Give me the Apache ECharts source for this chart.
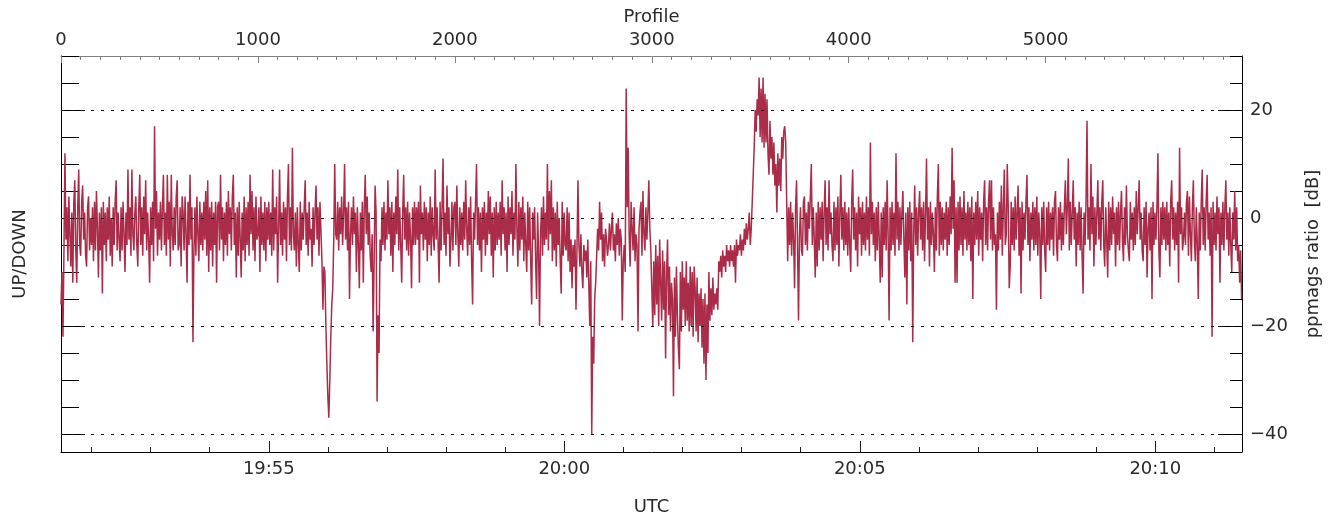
<!DOCTYPE html>
<html>
<head>
    <meta charset="utf-8"/>
    <title>ppmags ratio</title>
    <script src="https://cdn.jsdelivr.net/npm/echarts@6.0.0/dist/echarts.min.js"></script>
    <style>
        html, body { margin: 0; padding: 0; background: #fff; }
        #echart1 { width: 1337px; height: 518px; }
    </style>
</head>
<body>
<div id="echart1"></div>
<script>
    // ppmags ratio [dB], one value every 5 profiles
    var ratio = [
        -16, -10, -22, -6, 12, -4, 2, -8, 4, -3, -9, 1, -12, 3, 7, -6, -12, 2, 9, -5, -7, 3, 6, -4, 1, -7, -9, 2, 4, -6, 0, -5, 2, -8, 3, -6, 5, -2, -11, 1,
        -6, 2, -14, 3, -5, 1, -8, 2, -4, 4, -7, 0, -9, 2, -5, 3, 7, -6, 1, -4, -8, 2, -6, 3, -3, -10, 1, -5, 9, -4, 2, -7, 9, -3, -6, 1, 4, -5, -9, 2,
        8, -5, 2, -7, 4, -3, 7, -6, 1, -4, -12, 2, -5, 3, -8, 17, -2, 5, -7, 1, -4, 3, -6, 2, 8, -5, 1, -7, 8, -4, 3, -9, 8, -3, -6, 2, -5, 4, 7, -6,
        -5, 2, -9, 4, 1, -6, 4, -3, -12, 3, -5, 8, -4, 2, -23, -6, 2, -7, 4, -3, -8, 3, -5, 1, -6, 3, -4, 5, -7, 7, -10, 2, -6, 3, -9, 1, -5, 3, -12, 2,
        3, -6, 8, -4, 2, -8, 1, -5, 3, -7, 5, -3, 2, -6, 4, 8, -5, 1, -11, 2, -7, 3, -4, -11, 1, -6, 4, -8, 2, -5, 3, -7, 8, -3, 5, -6, 2, -8, 4, -4,
        -3, 2, -10, 4, -5, 1, -6, 3, -8, 2, -4, 3, -5, 1, -7, 9, -6, 2, -3, 4, -12, -2, 9, -5, 1, -7, 3, -4, 2, -8, 4, 10, -5, 2, -6, 13, -3, -6, 1, -9,
        2, -5, -10, 3, -6, 1, -4, 2, 7, -5, 1, -7, 3, -4, -2, -9, 2, -5, 1, 6, -4, 2, -7, 3, 3, -8, -17, -9, -10, -20, -27, -33, -37, -30, -22, -16, -13, -4, 10, -3,
        -4, 3, -6, 2, -3, 4, -5, 1, 10, -4, 2, -6, 3, -15, -3, 2, -5, 4, -3, 1, -10, 2, -5, -13, 1, -6, 3, -12, 2, 8, -3, 4, -5, 1, -7, -10, -3, -21, -8, 6,
        1, -34, -18, -25, -4, -8, 2, -5, 3, -6, 1, -4, 7, -3, 2, -7, 3, -10, 1, -5, 4, -3, 9, -6, 2, -5, -12, 1, 8, -4, 2, -6, 3, -7, 1, -4, -13, 2, -5, 3,
        -5, 2, -4, 3, -12, 6, -3, 1, -6, 3, -4, 2, -8, 1, -5, 4, -7, 2, -3, -6, 9, -4, 2, -5, -12, 3, -6, 2, 11, -5, 1, -7, 6, -3, 2, -9, -4, 3, -6, 2,
        3, -5, 6, -3, -9, 2, -5, 1, -6, 3, -4, 7, -2, -7, 2, -5, 4, -8, -16, 1, -4, 3, 10, -5, 2, -6, 1, -10, 2, -4, 3, -7, 1, -5, 5, -3, 4, -7, 1, -11,
        2, -6, 3, -5, 1, -4, 3, -7, 7, -3, 2, -6, 1, -10, 4, -5, 2, -3, 5, -7, 1, -4, 10, -2, -9, 3, -6, 2, -4, 4, -8, 1, -5, -10, 3, -6, 2, -8, -16, 1,
        -4, 2, -8, -15, 1, -6, -20, -3, 2, -7, 4, -5, 1, -4, 10, -6, 5, -3, 7, -8, 2, -6, 1, -9, 3, -5, 0, -8, -14, 3, -7, 1, -5, -6, 2, -8, 1, -10, -4, -13,
        -5, -9, -4, -17, -6, 7, -5, -9, -3, -10, -13, -5, -8, -6, -11, -4, -12, -20, -8, -40, -22, -27, -15, -12, -7, -2, -6, 3, -4, 1, -8, -3, -9, -2, -4, -7, -5, -1, -6, -2,
        1, -6, -3, -8, -1, -5, 0, -7, -2, -4, -19, -8, -5, -10, 24, 2, 13, -3, -9, 3, -2, -6, 2, -8, -3, -5, -21, -2, 1, 3, -7, 5, -3, -6, 2, -4, 1, 7, -2, -6,
        -13, -20, -8, -18, -5, -16, -7, -20, -4, -12, -19, -6, -17, -8, -26, -10, -4, -18, -9, -21, -12, -15, -33, -11, -22, -9, -18, -24, -28, -10, -21, -8, -17, -11, -20, -8, -19, -12, -21, -9,
        -20, -10, -22, -9, -13, -21, -11, -23, -14, -20, -13, -24, -15, -27, -14, -30, -16, -25, -10, -19, -13, -18, -11, -17, -14, -16, -13, -17, -8, -10, -7, -11, -6, -9, -7, -10, -5, -8, -6, -9,
        -5, -8, -6, -9, -5, -12, -4, -7, -5, -6, -3, -7, -4, -6, -2, -5, -1, -4, -2, 1, -5, -2, 3, 8, 13, 20, 16, 22, 19, 26, 15, 24, 14, 26, 13, 23, 14, 22, 12, 8,
        18, 11, 15, 8, 14, 6, 10, 1, 12, 6, 11, 5, 15, 11, 16, 17, 14, 3, -8, 2, -5, 3, -7, 1, -4, -13, 2, 7, -5, -19, -3, 2, -6, -7, 3, 4, -5, 1, -6, 3,
        -2, 4, 10, -5, 2, -4, -11, 1, -9, 3, -6, 2, -4, 3, -8, 1, 7, -5, 2, -6, 7, -3, 1, -5, -8, 3, -6, 2, -5, 4, -9, 1, 8, -4, 2, -6, 3, -5, 1, -7,
        2, -5, -10, 3, 9, -4, 2, -6, 1, -9, 4, -3, 2, -7, 3, -5, 1, -6, 4, -4, 2, -7, 14, -3, 3, -5, 1, -8, 2, -6, 3, -4, -12, 1, -11, 2, -5, 3, -6, 7,
        -3, -19, 2, -6, 3, -5, 1, -7, 12, -4, 3, -6, 2, -5, 1, 5, -4, -11, 1, -16, 2, -6, 3, -8, 1, -23, -3, 6, -5, 2, -7, 1, 5, -4, 2, -6, 3, -8, 1, 11,
        -4, 2, -9, 3, -5, 1, -3, -10, 2, -6, 4, 10, -7, 3, -5, 2, -6, 1, -4, 3, -7, 2, -5, 4, -3, 13, -2, 7, -12, 2, -12, 3, -6, 4, -5, 2, -7, 5, -4, 1,
        -6, 3, -5, 2, -8, 4, -15, 1, -5, 3, -4, 5, -7, 2, -4, 1, -8, 3, 7, -5, 2, -6, 3, 7, -4, 7, -6, 2, -5, -3, -17, 1, -6, 3, -4, 6, -7, 2, 9, -5,
        -3, 10, 2, -13, -9, 3, -5, 2, -6, 4, -4, 1, 6, -7, 2, -14, 3, -6, 1, -4, 3, 8, -5, 2, -8, 1, -4, 3, -6, 2, -5, 4, -7, 1, -3, -15, 2, -5, 3, -6,
        -10, 2, -5, 3, -6, 1, -4, 2, -7, 3, 5, -5, -8, 2, -4, 3, -6, 1, -5, 2, 7, -3, 2, 11, -6, 3, -5, 1, 7, -4, 2, -9, 1, -5, 3, -6, 2, -7, -14, 1,
        -5, 3, 18, -4, 2, -6, 10, -3, 4, -9, 2, -5, 1, 7, -4, 2, -6, 3, 7, -5, -9, 2, -4, -11, 3, -6, 2, -5, 4, -3, 1, -9, 2, -5, 3, -6, 1, 5, -4, -8,
        2, -5, 6, -3, -6, -8, 3, -4, 1, -6, 2, -5, 5, -3, 2, 7, -4, 1, -6, -8, 2, -5, 3, -11, -2, 1, -6, 2, -15, 3, -5, 1, -4, 2, 12, -6, -11, 2, -5, 3,
        -4, 2, -6, 3, -5, 1, -9, 3, 7, -4, 2, -6, 1, -5, 3, -12, 13, -3, 2, -6, -4, 1, -5, 3, 5, -7, 4, -3, -8, 2, 7, -4, -8, 2, -5, -15, 1, -6, 3, 9,
        -5, 2, -6, 3, 8, -4, 1, -7, 2, -22, 3, -5, 1, -6, 4, -3, 2, -12, 1, -5, 3, -6, 2, 7, -4, 1, -7, 2, -5, -10, 1, -4, 5, -6, 2, -8, -5, -12, -6, -15
    ];
    var profileStep = 5;
    var profileMax = 5997;

    // UTC, seconds of the day (19:51:29 .. 20:11:28)
    var timeStart = 71489;
    var timeEnd = 72688;
    var timeMinor = [71520, 71580, 71640, 71700, 71760, 71820, 71880, 71940, 72000, 72060,
        72120, 72180, 72240, 72300, 72360, 72420, 72480, 72540, 72600, 72660];
    var timeMajor = [71700, 72000, 72300, 72600];

    var profileMajor = [0, 1000, 2000, 3000, 4000, 5000];
    var profileMinor = [];
    for (var p = 0; p < profileMax; p += 100) profileMinor.push(p);

    var dbMin = -43.33;
    var dbMax = 30;
    var dbMajor = [-40, -20, 0, 20];
    var dbMinor = [-40, -35, -30, -25, -20, -15, -10, -5, 0, 5, 10, 15, 20, 25, 30];

    var font = 'DejaVu Sans';
    var txt = {fontFamily: font, fontSize: 18, color: '#2a2a2a', fontWeight: 'normal'};

    function hhmm(sec) {
        var h = Math.floor(sec / 3600), m = Math.floor((sec % 3600) / 60);
        return h + ':' + (m < 10 ? '0' : '') + m;
    }

    var Myechart1 = echarts.init(document.getElementById('echart1'));
    var option1 = {
        animation: false,
        backgroundColor: '#fff',
        grid: {left: 61, right: 95, top: 56, bottom: 66, containLabel: false, outerBoundsMode: 'none'},
        xAxis: [
            {   // bottom, minute ticks
                type: 'value', position: 'bottom', min: timeStart, max: timeEnd,
                axisLine: {onZero: false, lineStyle: {color: '#000', width: 1}},
                axisTick: {inside: true, length: 5, customValues: timeMinor, lineStyle: {color: '#222'}},
                axisLabel: {show: false},
                splitLine: {show: false}
            },
            {   // bottom, 5 minute ticks and labels
                type: 'value', position: 'bottom', min: timeStart, max: timeEnd,
                axisLine: {show: false, onZero: false},
                axisTick: {inside: true, length: 11, customValues: timeMajor, lineStyle: {color: '#222'}},
                axisLabel: Object.assign({customValues: timeMajor, margin: 8, formatter: hhmm}, txt),
                splitLine: {show: false},
                name: 'UTC', nameLocation: 'middle', nameGap: 46,
                nameTextStyle: txt
            },
            {   // top, profile ticks every 100
                type: 'value', position: 'top', min: 0, max: profileMax,
                axisLine: {onZero: false, lineStyle: {color: '#808080', width: 1}},
                axisTick: {inside: true, length: 4, customValues: profileMinor, lineStyle: {color: '#808080'}},
                axisLabel: {show: false},
                splitLine: {show: false}
            },
            {   // top, profile ticks every 1000 and labels
                type: 'value', position: 'top', min: 0, max: profileMax,
                axisLine: {show: false, onZero: false},
                axisTick: {inside: true, length: 7, customValues: profileMajor, lineStyle: {color: '#808080'}},
                axisLabel: Object.assign({customValues: profileMajor, margin: 7,
                    formatter: function (v) { return String(v); }}, txt),
                splitLine: {show: false},
                name: 'Profile', nameLocation: 'middle', nameGap: 26,
                nameTextStyle: txt
            }
        ],
        yAxis: [
            {   // left
                type: 'value', position: 'left', min: dbMin, max: dbMax,
                axisLine: {onZero: false, lineStyle: {color: '#000', width: 1}},
                axisTick: {inside: true, length: 18, customValues: dbMinor, lineStyle: {color: '#000'}},
                axisLabel: {show: false},
                splitLine: {show: false},
                name: 'UP/DOWN', nameLocation: 'middle', nameGap: 32, nameRotate: 90,
                nameTextStyle: txt
            },
            {
                type: 'value', position: 'left', min: dbMin, max: dbMax,
                axisLine: {show: false, onZero: false},
                axisTick: {inside: true, length: 24, customValues: dbMajor, lineStyle: {color: '#000'}},
                axisLabel: {show: false},
                splitLine: {show: false}
            },
            {   // right
                type: 'value', position: 'right', min: dbMin, max: dbMax,
                axisLine: {onZero: false, lineStyle: {color: '#000', width: 1}},
                axisTick: {inside: true, length: 12, customValues: dbMinor, lineStyle: {color: '#000'}},
                axisLabel: {show: false},
                splitLine: {show: false}
            },
            {
                type: 'value', position: 'right', min: dbMin, max: dbMax,
                axisLine: {show: false, onZero: false},
                axisTick: {inside: true, length: 24, customValues: dbMajor, lineStyle: {color: '#000'}},
                axisLabel: Object.assign({
                    customValues: dbMajor, margin: 8,
                    formatter: function (v) { return v < 0 ? '\u2212' + (-v) : '' + v; }
                }, txt),
                splitLine: {show: false},
                name: 'ppmags ratio  [dB]', nameLocation: 'middle', nameGap: 62, nameRotate: 90,
                nameTextStyle: txt
            }
        ],
        series: [{
            name: 'ppmags ratio',
            type: 'line',
            xAxisIndex: 2,
            yAxisIndex: 0,
            showSymbol: false,
            symbol: 'none',
            sampling: null,
            lineStyle: {width: 1.5, color: '#ab2c48'},
            data: ratio.map(function (v, i) { return [i * profileStep, v]; }),
            markLine: {
                silent: true,
                symbol: ['none', 'none'],
                label: {show: false},
                lineStyle: {color: '#111', width: 1, type: [3, 7]},
                data: dbMajor.map(function (v) { return {yAxis: v}; })
            }
        }]
    };
    Myechart1.setOption(option1);
</script>
</body>
</html>
